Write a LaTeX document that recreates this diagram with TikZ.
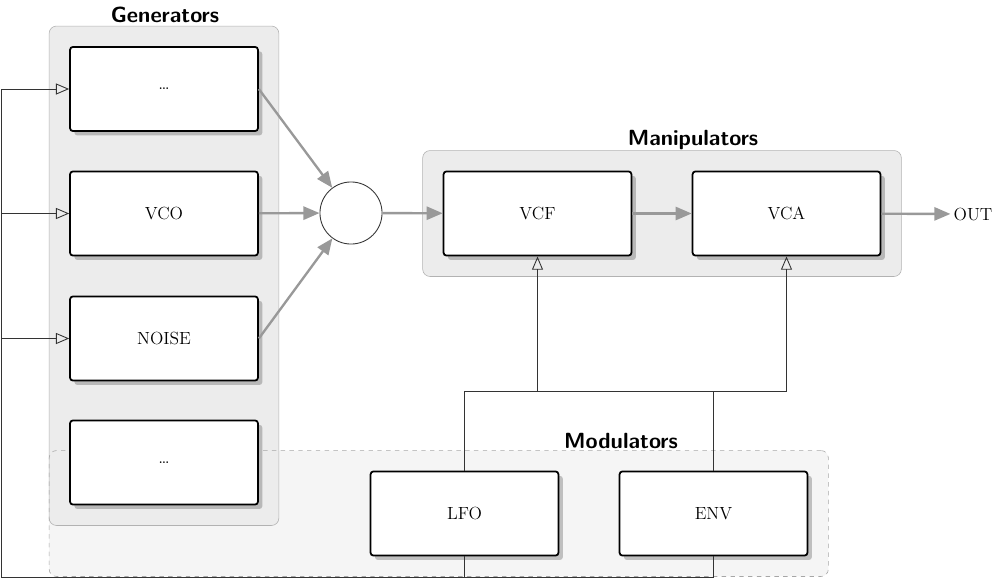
\documentclass[tikz,border=0pt]{standalone}
\usetikzlibrary{arrows.meta,shadows,fit,backgrounds}

\tikzset{
  module/.style={draw=black, line width=1.2pt, rounded corners=2pt, fill=white,
    font=\large, minimum width=4.51cm, minimum height=2.02cm,
    drop shadow={shadow xshift=3pt, shadow yshift=-3pt, fill=black, opacity=0.22}},
  group/.style={draw=gray!60, fill=gray!15, rounded corners=5pt, inner sep=0.48cm},
  title/.style={font=\sffamily\bfseries\fontsize{15}{18}\selectfont, anchor=base, inner sep=0pt},
  flow/.style={draw=gray!80, line width=1.6pt, -{Triangle[length=11pt, width=9pt]}},
  ctrl/.style={draw=black!80, line width=0.6pt, -{Triangle[open, length=9pt, width=7.5pt]}},
  wire/.style={draw=black!80, line width=0.6pt},
}

\begin{document}
\begin{tikzpicture}[x=0.024cm, y=-0.024cm]
  \useasboundingbox (0,0) rectangle (1000,587);

  % generators
  \node[module] (gen1)  at (164,89)    {\dots};
  \node[module] (vco)   at (164,213.5) {VCO};
  \node[module] (noise) at (164,338.5) {NOISE};
  \node[module] (gen4)  at (164,462.5) {\dots};

  \node[circle, draw=black!80, line width=0.6pt, minimum size=1.49cm] (mix) at (351,213) {};

  % manipulators
  \node[module] (vcf) at (537.5,213.5) {VCF};
  \node[module] (vca) at (786.5,213.5) {VCA};
  \node[font=\large, inner sep=2pt] (out) at (973,214) {OUT};

  % modulators
  \node[module] (lfo) at (464.5,513.5) {LFO};
  \node[module] (env) at (713.5,513.5) {ENV};

  \begin{scope}[on background layer]
    \node[group, draw=none, fill=gray!8, fit=(lfo)(env)(gen4.west |- lfo.center)] (modbg) {};
    \node[group, fit=(gen1)(gen4)] (gens) {};
    \node[group, fill=none, draw=gray!70, dashed, fit=(lfo)(env)(gen4.west |- lfo.center)] (mods) {};
    \node[group, fit=(vcf)(vca)] (mans) {};
  \end{scope}

  \node[title] at (165,22)  {Generators};
  \node[title] at (693,145) {Manipulators};
  \node[title] at (621,448) {Modulators};

  % audio path
  \draw[flow] (gen1.east) -- (mix);
  \draw[flow] (vco) -- (mix);
  \draw[flow] (noise.east) -- (mix);
  \draw[flow] (mix) -- (vcf);
  \draw[flow] (vcf) -- (vca);
  \draw[flow] (vca) -- (out);

  % control path
  \coordinate (bus) at (626,391);
  \draw[wire] (lfo.north) |- (bus) -| (env.north);
  \draw[ctrl] (bus) -| (vcf.south);
  \draw[ctrl] (bus) -| (vca.south);

  \coordinate (fb) at (1,577);
  \draw[wire] (env.south) |- (fb);
  \draw[wire] (lfo.south) -- (lfo.south |- fb);
  \draw[ctrl] (fb) |- (gen1.west);
  \draw[ctrl] (fb) |- (vco.west);
  \draw[ctrl] (fb) |- (noise.west);

\end{tikzpicture}
\end{document}
